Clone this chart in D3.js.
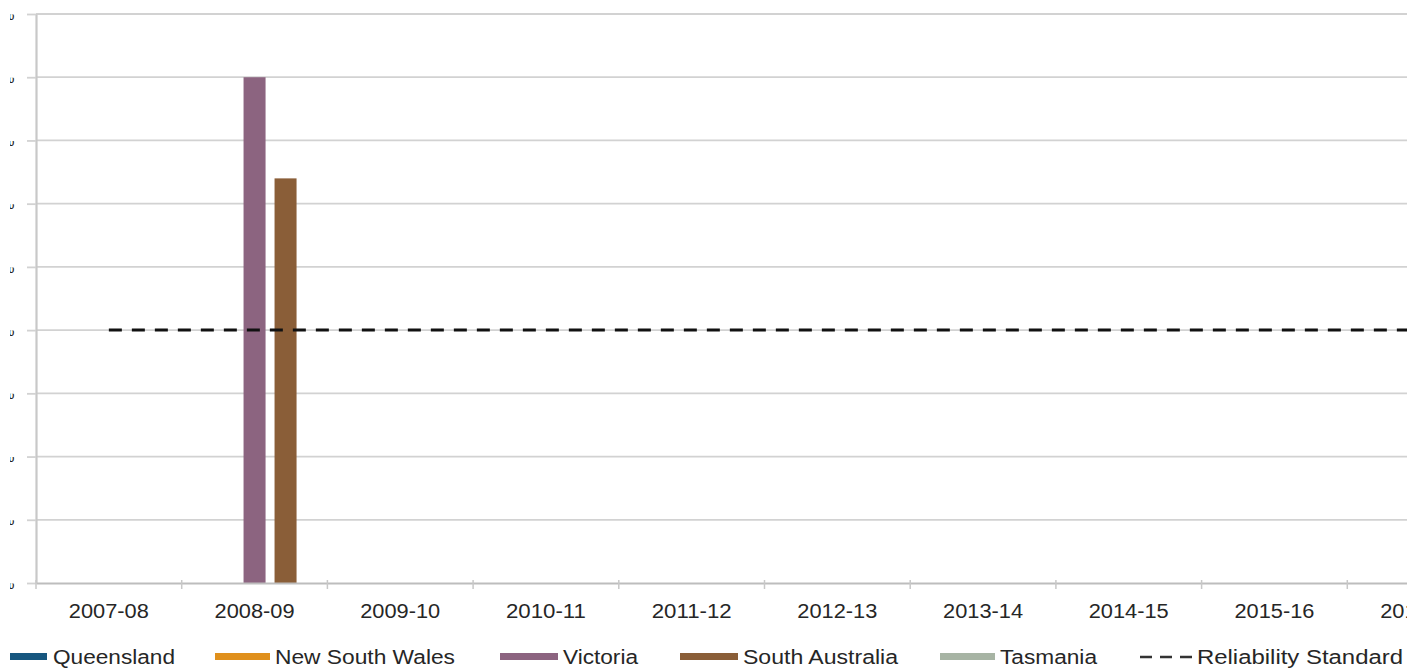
<!DOCTYPE html>
<html>
<head>
<meta charset="utf-8">
<script src="https://cdn.jsdelivr.net/npm/d3@7"></script>
<style>
  html, body { margin: 0; padding: 0; background: #fff; overflow: hidden; }
  svg { display: block; font-family: "Liberation Sans", Arial, sans-serif; }
</style>
</head>
<body>
<svg id="chart" width="1407" height="668"></svg>
<script>
const categories = ["2007-08","2008-09","2009-10","2010-11","2011-12","2012-13","2013-14","2014-15","2015-16","2016-17"];
const seriesNames = ["Queensland","New South Wales","Victoria","South Australia","Tasmania"];
const seriesColors = ["#17577f","#e0901c","#8c6480","#8a5e38","#a7b4a4"];
// Unserved energy (% of annual energy); only 2008-09 non-zero
const queensland    = [0,0,0,0,0,0,0,0,0,0];
const newSouthWales = [0,0,0,0,0,0,0,0,0,0];
const victoria      = [0,0.0040,0,0,0,0,0,0,0,0];
const southAustralia= [0,0.0032,0,0,0,0,0,0,0,0];
const tasmania      = [0,0,0,0,0,0,0,0,0,0];
const reliabilityStandard = 0.002;
const yTicks = [0,0.0005,0.001,0.0015,0.002,0.0025,0.003,0.0035,0.004,0.0045];

const seriesValues = [queensland,newSouthWales,victoria,southAustralia,tasmania];

const svg = d3.select("#chart");
const mLeft = 36, mTop = 14, mBottom = 583;
const catW = 145.7;
const mRight = mLeft + catW * categories.length;

const x = d3.scaleBand().domain(categories).range([mLeft, mRight]).padding(0);
const y = d3.scaleLinear().domain([0, 0.0045]).range([mBottom, mTop]);
const inner = d3.scaleBand().domain(seriesNames)
  .range([-77.5, 77.5]).paddingInner(0.29).paddingOuter(0.145);

// clip for the (cropped) y-axis labels
svg.append("defs").append("clipPath").attr("id", "yclip")
  .append("rect").attr("x", 10 - mLeft).attr("y", 0).attr("width", 30).attr("height", 668);

// gridlines
svg.append("g").selectAll("line").data(yTicks.slice(1)).join("line")
  .attr("x1", mLeft).attr("x2", 1407)
  .attr("y1", d => y(d)).attr("y2", d => y(d))
  .attr("stroke", "#d2d2d2").attr("stroke-width", 1.8);

// y axis labels (cropped in the source image: only a sliver of the last glyph shows)
const yAxis = d3.axisLeft(y).tickValues(yTicks)
  .tickFormat(d => d3.format(".4f")(d) + "%").tickSize(0).tickPadding(0);
const ya = svg.append("g").attr("transform", `translate(${mLeft},0)`).call(yAxis);
ya.select(".domain").attr("stroke", "#c8c8c8").attr("stroke-width", 2.2);
ya.selectAll(".tick text").attr("x", 14.5 - mLeft).attr("font-size", 16).attr("fill", "#222")
  .attr("font-family", "Liberation Sans, Arial, sans-serif")
  .attr("text-anchor", "end")
  .attr("clip-path", "url(#yclip)");
ya.selectAll(".tick").append("line").attr("x1", -9).attr("x2", 0)
  .attr("stroke", "#d2d2d2").attr("stroke-width", 1.8);

// bars
const barData = [];
seriesNames.forEach((s, si) => {
  categories.forEach((c, ci) => {
    barData.push({series: s, cat: c, value: seriesValues[si][ci], color: seriesColors[si]});
  });
});
svg.append("g").selectAll("rect").data(barData.filter(d => d.value > 0)).join("rect")
  .attr("x", d => x(d.cat) + x.bandwidth()/2 + inner(d.series))
  .attr("width", inner.bandwidth())
  .attr("y", d => y(d.value))
  .attr("height", d => y(0) - y(d.value))
  .attr("fill", d => d.color);

// x axis
const xAxis = d3.axisBottom(x).tickSize(0).tickPadding(21);
const xa = svg.append("g").attr("transform", `translate(0,${mBottom})`).call(xAxis);
xa.select(".domain").attr("stroke", "#bdbdbd").attr("stroke-width", 2.2);
xa.selectAll("text").attr("font-size", 19.5).attr("fill", "#262626")
  .attr("font-family", "Liberation Sans, Arial, sans-serif")
  .attr("textLength", 80).attr("lengthAdjust", "spacingAndGlyphs");
svg.append("g").selectAll("line").data(categories).join("line")
  .attr("x1", d => x(d)).attr("x2", d => x(d))
  .attr("y1", mBottom - 3).attr("y2", mBottom + 6)
  .attr("stroke", "#c8c8c8").attr("stroke-width", 1.5);

// reliability standard line
svg.append("line")
  .attr("x1", x(categories[0]) + x.bandwidth()/2).attr("x2", 1407)
  .attr("y1", y(reliabilityStandard)).attr("y2", y(reliabilityStandard))
  .attr("stroke", "#111").attr("stroke-width", 3).attr("stroke-dasharray", "13,10");

// legend
const legendItems = [
  {name: "Queensland", color: seriesColors[0], sx: 10, sw: 37, tx: 53, tw: 122},
  {name: "New South Wales", color: seriesColors[1], sx: 215, sw: 55, tx: 275, tw: 180},
  {name: "Victoria", color: seriesColors[2], sx: 500, sw: 58, tx: 563, tw: 75},
  {name: "South Australia", color: seriesColors[3], sx: 680, sw: 58, tx: 743, tw: 155},
  {name: "Tasmania", color: seriesColors[4], sx: 940, sw: 55, tx: 1000, tw: 97}
];
const ly = 657;
const lg = svg.append("g");
legendItems.forEach(it => {
  lg.append("rect").attr("x", it.sx).attr("y", ly - 4).attr("width", it.sw).attr("height", 7).attr("fill", it.color);
  lg.append("text").attr("x", it.tx).attr("y", ly + 7).attr("font-size", 19.5).attr("fill", "#262626")
    .attr("textLength", it.tw).attr("lengthAdjust", "spacingAndGlyphs").text(it.name);
});
lg.append("line").attr("x1", 1140).attr("x2", 1192).attr("y1", ly).attr("y2", ly)
  .attr("stroke", "#333").attr("stroke-width", 2.5).attr("stroke-dasharray", "12,8");
lg.append("text").attr("x", 1197).attr("y", ly + 7).attr("font-size", 19.5).attr("fill", "#262626")
  .attr("textLength", 206).attr("lengthAdjust", "spacingAndGlyphs").text("Reliability Standard");
</script>
</body>
</html>
